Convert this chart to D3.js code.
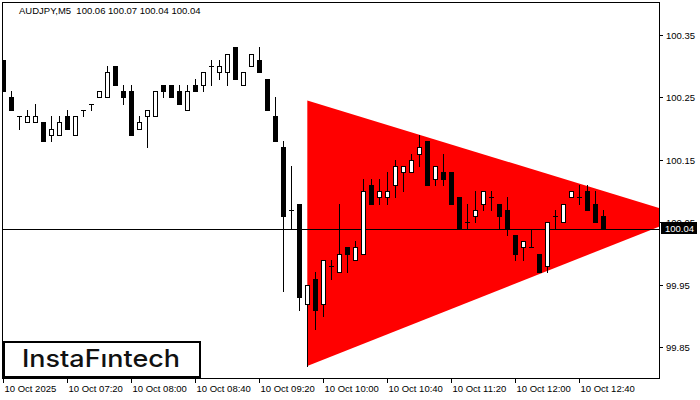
<!DOCTYPE html>
<html>
<head>
<meta charset="utf-8">
<script src="https://cdn.jsdelivr.net/npm/d3@7"></script>
<style>
  body { margin: 0; background: #fff; }
  svg { display: block; }
  text { font-family: "Liberation Sans", Arial, sans-serif; }
</style>
</head>
<body>
<script>
// AUDJPY M5 candles, 06:40 .. 12:55
var symbol = "AUDJPY,M5";
var opens  = [100.31,100.25,100.22,100.21,100.21,100.21,100.19,100.19,100.22,100.19,100.23,100.24,100.25,100.25,100.30,100.26,100.26,100.20,100.22,100.22,
              100.27,100.27,100.26,100.23,100.27,100.27,100.30,100.29,100.29,100.33,100.27,100.30,100.31,100.28,100.22,100.17,100.07,100.08,99.92,99.96,
              99.92,99.98,99.97,100.01,99.99,100.00,100.11,100.09,100.09,100.11,100.13,100.13,100.16,100.18,100.12,100.13,100.13,100.09,100.05,100.06,
              100.08,100.09,100.08,100.07,100.03,100.01,100.01,100.00,99.98,100.06,100.05,100.09,100.09,100.10,100.08,100.06];
var highs  = [100.31,100.26,100.22,100.23,100.24,100.21,100.22,100.22,100.23,100.22,100.23,100.24,100.26,100.30,100.30,100.27,100.27,100.22,100.23,100.26,
              100.27,100.27,100.27,100.27,100.28,100.29,100.31,100.31,100.32,100.33,100.29,100.32,100.33,100.28,100.25,100.18,100.14,100.08,99.95,99.97,
              99.99,99.99,100.08,100.01,100.02,100.12,100.12,100.12,100.13,100.15,100.14,100.16,100.19,100.18,100.14,100.16,100.13,100.09,100.08,100.10,
              100.10,100.10,100.08,100.09,100.03,100.02,100.04,100.00,100.05,100.07,100.08,100.10,100.11,100.11,100.10,100.07];
var lows   = [100.26,100.23,100.20,100.21,100.21,100.18,100.18,100.19,100.20,100.19,100.22,100.23,100.25,100.25,100.27,100.24,100.19,100.20,100.17,100.22,
              100.25,100.25,100.24,100.23,100.26,100.26,100.27,100.28,100.27,100.28,100.27,100.30,100.29,100.23,100.18,99.94,100.04,99.91,99.82,99.88,
              99.90,99.96,99.97,99.97,99.99,100.00,100.08,100.08,100.08,100.09,100.10,100.13,100.14,100.11,100.11,100.11,100.08,100.04,100.04,100.05,
              100.07,100.07,100.04,100.03,99.99,99.99,100.01,99.97,99.97,100.04,100.05,100.09,100.08,100.07,100.05,100.04];
var closes = [100.26,100.23,100.22,100.22,100.22,100.18,100.20,100.21,100.20,100.22,100.23,100.24,100.26,100.29,100.27,100.25,100.19,100.21,100.23,100.26,
              100.26,100.25,100.24,100.26,100.26,100.29,100.30,100.30,100.32,100.28,100.29,100.32,100.29,100.23,100.18,100.06,100.07,99.93,99.95,99.91,
              99.99,99.98,100.00,100.00,100.01,100.10,100.08,100.10,100.10,100.14,100.14,100.15,100.17,100.11,100.14,100.12,100.08,100.04,100.05,100.07,
              100.10,100.09,100.06,100.04,100.00,100.02,100.01,99.97,100.05,100.06,100.08,100.10,100.09,100.07,100.05,100.04];

var timeLabels = ["10 Oct 2025", "10 Oct 07:20", "10 Oct 08:00", "10 Oct 08:40", "10 Oct 09:20",
                  "10 Oct 10:00", "10 Oct 10:40", "10 Oct 11:20", "10 Oct 12:00", "10 Oct 12:40"];
var priceTicks = [99.85, 99.95, 100.05, 100.15, 100.25, 100.35];
var lastPrice = 100.04;

// symmetrical triangle pattern: [bar index, price]
var triangle = [[38, 100.245], [85.3, 100.06], [38, 99.82]];

var width = 700, height = 400;
var plot = { left: 3, top: 3, right: 659, bottom: 378 };

var svg = d3.select("body").append("svg")
    .attr("width", width)
    .attr("height", height);

var x = d3.scaleLinear().domain([0, 8]).range([3.3, 67.3]);
var y = d3.scaleLinear().domain([99.85, 100.35]).range([347.25, 35]);

svg.append("clipPath").attr("id", "clip")
    .append("rect")
    .attr("x", plot.left).attr("y", plot.top)
    .attr("width", plot.right - plot.left).attr("height", plot.bottom - plot.top);

var g = svg.append("g").attr("clip-path", "url(#clip)");

// red triangle
g.append("path")
    .attr("d", d3.line().x(function (d) { return x(d[0]); }).y(function (d) { return y(d[1]); })(triangle) + "Z")
    .attr("fill", "#ff0000");

// bid line
var yLast = Math.round(y(lastPrice)) + 0.5;
g.append("line")
    .attr("x1", plot.left).attr("x2", plot.right)
    .attr("y1", yLast).attr("y2", yLast)
    .attr("stroke", "#000").attr("stroke-width", 1);

// candles
var candles = g.append("g").selectAll("g")
    .data(opens.map(function (o, i) {
        return { i: i, o: o, h: highs[i], l: lows[i], c: closes[i] };
    }))
    .enter().append("g");

candles.each(function (d) {
    var sel = d3.select(this);
    var cx = Math.floor(x(d.i));
    var top = Math.round(y(Math.max(d.o, d.c)));
    var bot = Math.round(y(Math.min(d.o, d.c)));
    sel.append("line")
        .attr("x1", cx + 0.5).attr("x2", cx + 0.5)
        .attr("y1", Math.round(y(d.h))).attr("y2", Math.round(y(d.l)) + 1)
        .attr("stroke", "#000").attr("stroke-width", 1);
    if (d.o === d.c) {
        sel.append("line")
            .attr("x1", cx - 2).attr("x2", cx + 3)
            .attr("y1", top + 0.5).attr("y2", top + 0.5)
            .attr("stroke", "#000").attr("stroke-width", 1);
    } else if (d.c < d.o) {
        sel.append("rect")
            .attr("x", cx - 2).attr("y", top)
            .attr("width", 5).attr("height", bot - top + 1)
            .attr("fill", "#000");
    } else {
        sel.append("rect")
            .attr("x", cx - 1.5).attr("y", top + 0.5)
            .attr("width", 4).attr("height", bot - top)
            .attr("fill", "#fff").attr("stroke", "#000").attr("stroke-width", 1);
    }
});

// frame
svg.append("rect")
    .attr("x", 2.5).attr("y", 2.5)
    .attr("width", plot.right - 2).attr("height", plot.bottom - 2)
    .attr("fill", "none").attr("stroke", "#000").attr("stroke-width", 1);

// right price axis
var yAxis = svg.append("g");
priceTicks.forEach(function (p) {
    var yy = Math.round(y(p)) + 0.5;
    yAxis.append("line")
        .attr("x1", plot.right).attr("x2", plot.right + 4)
        .attr("y1", yy).attr("y2", yy)
        .attr("stroke", "#000");
    yAxis.append("text")
        .attr("x", 666).attr("y", yy + 3.5)
        .attr("font-size", "9.5px")
        .attr("fill", "#000")
        .text(d3.format(".2f")(p));
});

// current price label (covers the 100.05 tick label, as in the terminal)
svg.append("rect")
    .attr("x", 661).attr("y", 222)
    .attr("width", 36).attr("height", 12)
    .attr("fill", "#000");
svg.append("text")
    .attr("x", 665).attr("y", 231.5)
    .attr("font-size", "9.5px")
    .attr("fill", "#fff")
    .text(d3.format(".2f")(lastPrice));

// bottom time axis
var xAxis = svg.append("g");
timeLabels.forEach(function (t, k) {
    var xx = Math.floor(x(k * 8)) + 0.5;
    xAxis.append("line")
        .attr("x1", xx).attr("x2", xx)
        .attr("y1", plot.bottom).attr("y2", plot.bottom + 5)
        .attr("stroke", "#000");
    xAxis.append("text")
        .attr("x", xx + 1).attr("y", 391.5)
        .attr("font-size", "9.5px")
        .attr("fill", "#000")
        .text(t);
});

// header
svg.append("text")
    .attr("x", 19).attr("y", 14)
    .attr("font-size", "9.5px")
    .attr("fill", "#000")
    .style("white-space", "pre")
    .text(symbol + "  " + [opens[75], highs[75], lows[75], closes[75]].map(d3.format(".2f")).join(" "));

// logo
svg.append("rect")
    .attr("x", 4).attr("y", 342)
    .attr("width", 196).attr("height", 35)
    .attr("fill", "#fff").attr("stroke", "#000").attr("stroke-width", 2);
svg.append("text")
    .attr("x", 22).attr("y", 367)
    .attr("font-size", "24px")
    .attr("font-weight", 500)
    .style("font-family", "Inter, 'Noto Sans', sans-serif")
    .attr("textLength", 158)
    .attr("lengthAdjust", "spacingAndGlyphs")
    .attr("fill", "#111")
    .text("InstaF\u0131ntech");
</script>
</body>
</html>
